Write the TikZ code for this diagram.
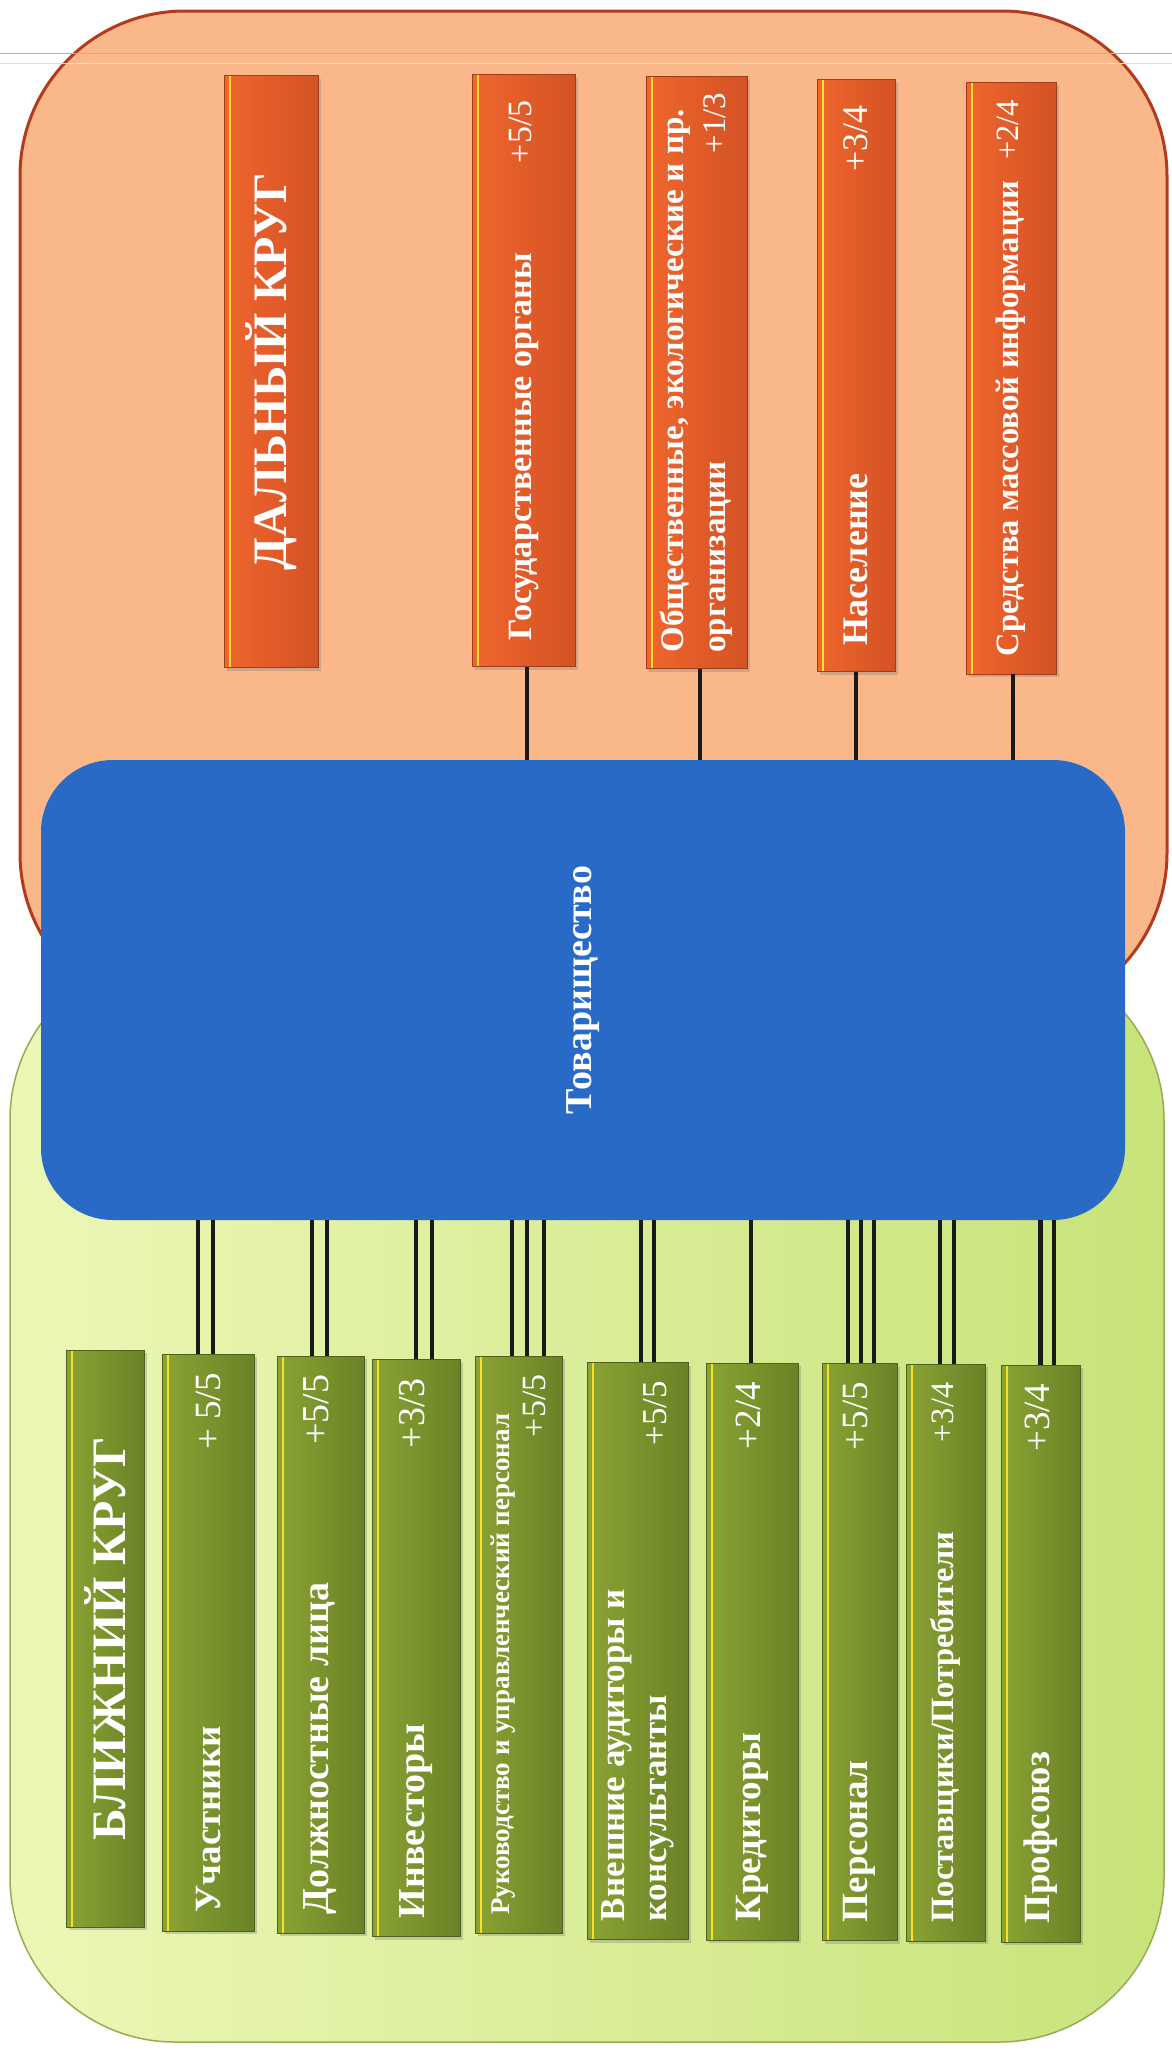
\documentclass[tikz,border=0pt]{standalone}
\usepackage{fontspec}
\setmainfont{Liberation Serif}
\usepackage{graphicx}
\usetikzlibrary{shadows}
\tikzset{>=stealth}

\definecolor{farbg}{RGB}{250,184,138}
\definecolor{farline}{RGB}{180,58,28}
\definecolor{farbarL}{RGB}{240,102,46}
\definecolor{farbarR}{RGB}{212,82,36}
\definecolor{nearbgL}{RGB}{236,247,182}
\definecolor{nearbgR}{RGB}{200,227,122}
\definecolor{nearline}{RGB}{150,172,84}
\definecolor{nearbarL}{RGB}{138,164,52}
\definecolor{nearbarR}{RGB}{106,130,38}
\definecolor{firmblue}{RGB}{40,106,198}
\definecolor{glint}{RGB}{246,224,40}

% vertical text in a bar: label at the bottom, rating at the top
\newcommand{\vlabel}[3][540pt]{\rotatebox{90}{\parbox{#1}{#2\hfill{\mdseries #3}}}}

\tikzset{
  farpanel/.style={draw=farline, line width=3pt, fill=farbg, rounded corners=165pt},
  nearpanel/.style={draw=nearline, line width=1.5pt, left color=nearbgL, right color=nearbgR, rounded corners=165pt},
  bar/.style={rectangle, inner sep=0pt, text=white,
    font=\fontsize{34}{42}\selectfont\bfseries,
    drop shadow={shadow xshift=3pt, shadow yshift=-3pt, opacity=0.35},
    path picture={\draw[glint, line width=2.5pt]
      ([xshift=6pt]path picture bounding box.south west) --
      ([xshift=6pt]path picture bounding box.north west);}},
  farbar/.style={bar, draw=farbarR!75!black, line width=0.8pt,
    left color=farbarL, right color=farbarR, minimum height=592pt},
  nearbar/.style={bar, draw=nearbarR!75!black, line width=0.8pt,
    left color=nearbarL, right color=nearbarR, minimum height=577pt},
  lblsize/.style={font=\fontsize{#1}{42}\selectfont\bfseries},
  heading/.style={font=\fontsize{48}{56}\selectfont\bfseries},
  firm/.style={fill=firmblue, rounded corners=72pt, minimum width=1084pt,
    minimum height=460pt, text=white, font=\fontsize{38}{44}\selectfont\bfseries},
  link/.style={line width=4.5pt, draw=black!90},
}

\begin{document}
\begin{tikzpicture}[x=1pt, y=-1pt]
\useasboundingbox (0,0) rectangle (1172,2051);

% panels
\draw[farpanel] (20,11) rectangle (1167,1018);
\draw[nearpanel] (10,955) rectangle (1164,2042);
\draw[gray!60] (0,53) -- (1172,53);
\draw[gray!25] (0,63) -- (1172,63);

\node[firm] (firm) at (583,990) {\rotatebox{90}{Товарищество}};

% far circle
\node[farbar, heading, minimum width=94pt] (far) at (271,371.5) {\rotatebox{90}{ДАЛЬНЫЙ КРУГ}};
\node[farbar, lblsize=34, minimum width=103pt] (gov) at (523.5,370.5) {\vlabel{Государственные органы}{+5/5}};
\node[farbar, lblsize=33, minimum width=101pt] (pub) at (696.5,372.5) {\vlabel[560pt]{\mbox{Общественные, экологические и пр.}\\организации}{+1/3}};
\node[farbar, lblsize=36, minimum width=78pt] (pop) at (856,375.5) {\vlabel{Население}{+3/4}};
\node[farbar, lblsize=32.5, minimum width=90pt] (media) at (1011,378) {\vlabel[556pt]{Средства массовой информации}{+2/4}};

% near circle
\node[nearbar, heading, minimum width=78pt] (near) at (105,1638.5) {\rotatebox{90}{БЛИЖНИЙ КРУГ}};
\node[nearbar, lblsize=37, minimum width=92pt] (uch) at (208,1642.5) {\vlabel{Участники}{+ 5/5}};
\node[nearbar, lblsize=38, minimum width=87pt] (dolzh) at (320.5,1644.5) {\vlabel{Должностные лица}{+5/5}};
\node[nearbar, lblsize=38, minimum width=88pt] (inv) at (416,1648) {\vlabel{Инвесторы}{+3/3}};
\node[nearbar, lblsize=34, minimum width=87pt] (ruk) at (518.5,1644.5) {\vlabel{{\fontsize{27}{30}\selectfont Руководство и управленческий персонал}\\[-6pt]\mbox{}}{+5/5}};
\node[nearbar, lblsize=35, minimum width=101pt] (vn) at (637.5,1651) {\vlabel{Внешние аудиторы и\\консультанты}{+5/5}};
\node[nearbar, lblsize=37, minimum width=92pt] (kred) at (752,1651.5) {\vlabel{Кредиторы}{+2/4}};
\node[nearbar, lblsize=37, minimum width=75pt] (pers) at (859.5,1652) {\vlabel{Персонал}{+5/5}};
\node[nearbar, lblsize=32.5, minimum width=79pt] (post) at (945.5,1652.5) {\vlabel{Поставщики/Потребители}{+3/4}};
\node[nearbar, lblsize=37, minimum width=79pt] (prof) at (1040.5,1653.5) {\vlabel{Профсоюз}{+3/4}};

% links to the far circle
\draw[link] ([xshift=3.5pt]gov.south) -- ([xshift=3.5pt]gov.south |- firm.north);
\draw[link] ([xshift=3.5pt]pub.south) -- ([xshift=3.5pt]pub.south |- firm.north);
\draw[link] (pop.south) -- (pop.south |- firm.north);
\draw[link] ([xshift=2pt]media.south) -- ([xshift=2pt]media.south |- firm.north);

% links to the near circle
\draw[link] ([xshift=-10pt]uch.north) -- ([xshift=-10pt]uch.north |- firm.south);
\draw[link] ([xshift=5pt]uch.north) -- ([xshift=5pt]uch.north |- firm.south);
\draw[link] ([xshift=-8.5pt]dolzh.north) -- ([xshift=-8.5pt]dolzh.north |- firm.south);
\draw[link] ([xshift=6.5pt]dolzh.north) -- ([xshift=6.5pt]dolzh.north |- firm.south);
\draw[link] (inv.north) -- (inv.north |- firm.south);
\draw[link] ([xshift=16pt]inv.north) -- ([xshift=16pt]inv.north |- firm.south);
\draw[link] ([xshift=-6.5pt]ruk.north) -- ([xshift=-6.5pt]ruk.north |- firm.south);
\draw[link] ([xshift=8.5pt]ruk.north) -- ([xshift=8.5pt]ruk.north |- firm.south);
\draw[link] ([xshift=25.5pt]ruk.north) -- ([xshift=25.5pt]ruk.north |- firm.south);
\draw[link] ([xshift=3.5pt]vn.north) -- ([xshift=3.5pt]vn.north |- firm.south);
\draw[link] ([xshift=16.5pt]vn.north) -- ([xshift=16.5pt]vn.north |- firm.south);
\draw[link] ([xshift=-1pt]kred.north) -- ([xshift=-1pt]kred.north |- firm.south);
\draw[link] ([xshift=-11.5pt]pers.north) -- ([xshift=-11.5pt]pers.north |- firm.south);
\draw[link] ([xshift=1.5pt]pers.north) -- ([xshift=1.5pt]pers.north |- firm.south);
\draw[link] ([xshift=14.5pt]pers.north) -- ([xshift=14.5pt]pers.north |- firm.south);
\draw[link] ([xshift=-5.5pt]post.north) -- ([xshift=-5.5pt]post.north |- firm.south);
\draw[link] ([xshift=8.5pt]post.north) -- ([xshift=8.5pt]post.north |- firm.south);
\draw[link] (prof.north) -- (prof.north |- firm.south);
\draw[link] ([xshift=13.5pt]prof.north) -- ([xshift=13.5pt]prof.north |- firm.south);
\end{tikzpicture}
\end{document}
